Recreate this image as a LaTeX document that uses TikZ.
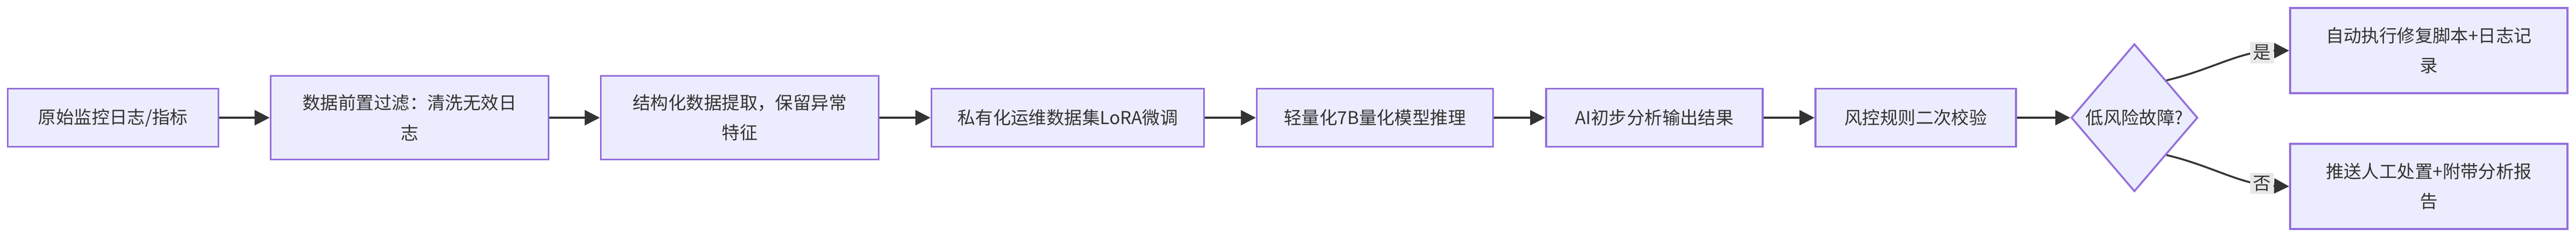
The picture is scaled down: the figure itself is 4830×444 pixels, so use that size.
\documentclass[tikz,border=0pt]{standalone}
\usepackage{fontspec}
\setmainfont{Noto Sans CJK SC}
\usetikzlibrary{arrows.meta,shapes.geometric}
\definecolor{boxfill}{HTML}{ECECFF}
\definecolor{boxline}{HTML}{9370DB}
\definecolor{ink}{HTML}{333333}
\tikzset{
  proc/.style={draw=boxline,fill=boxfill,line width=1pt,text=ink,align=center,
    inner sep=0pt,font=\fontsize{9.5}{16}\selectfont},
  flow/.style={draw=ink,line width=1pt,-{Triangle[length=8pt,width=8pt]}},
  tag/.style={fill=gray!18,text=ink,inner sep=1.5pt,font=\fontsize{9.5}{11}\selectfont}
}
\begin{document}
\begin{tikzpicture}[x=0.01cm,y=-0.01cm]
  \useasboundingbox (0,0) rectangle (4830,444);
  \node[proc,minimum width=3.95cm,minimum height=1.09cm] (src) at (212,221) {原始监控日志/指标};
  \node[proc,minimum width=5.21cm,minimum height=1.57cm] (filt) at (768,221) {数据前置过滤：清洗无效日\\志};
  \node[proc,minimum width=5.21cm,minimum height=1.57cm] (extr) at (1387,221) {结构化数据提取，保留异常\\特征};
  \node[proc,minimum width=5.11cm,minimum height=1.09cm] (tune) at (2002,221) {私有化运维数据集LoRA微调};
  \node[proc,minimum width=4.43cm,minimum height=1.09cm] (infer) at (2578,221) {轻量化7B量化模型推理};
  \node[proc,minimum width=4.06cm,minimum height=1.09cm] (ai) at (3102,221) {AI初步分析输出结果};
  \node[proc,minimum width=3.76cm,minimum height=1.09cm] (rule) at (3592,221) {风控规则二次校验};
  \node[proc,diamond,aspect=0.86,minimum width=2.37cm,minimum height=2.77cm] (risk) at (4002,221) {低风险故障?};
  \node[proc,minimum width=5.2cm,minimum height=1.6cm] (auto) at (4554,95) {自动执行修复脚本+日志记\\录};
  \node[proc,minimum width=5.2cm,minimum height=1.6cm] (human) at (4554,350) {推送人工处置+附带分析报\\告};

  \draw[flow] (src) -- (filt);
  \draw[flow] (filt) -- (extr);
  \draw[flow] (extr) -- (tune);
  \draw[flow] (tune) -- (infer);
  \draw[flow] (infer) -- (ai);
  \draw[flow] (ai) -- (rule);
  \draw[flow] (rule) -- (risk);
  \draw[flow] (risk.north east) .. controls (4150,130) and (4200,95) .. node[tag,pos=0.8] {是} (auto.west);
  \draw[flow] (risk.south east) .. controls (4150,312) and (4200,347) .. node[tag,pos=0.8] {否} (human.west);
\end{tikzpicture}
\end{document}
